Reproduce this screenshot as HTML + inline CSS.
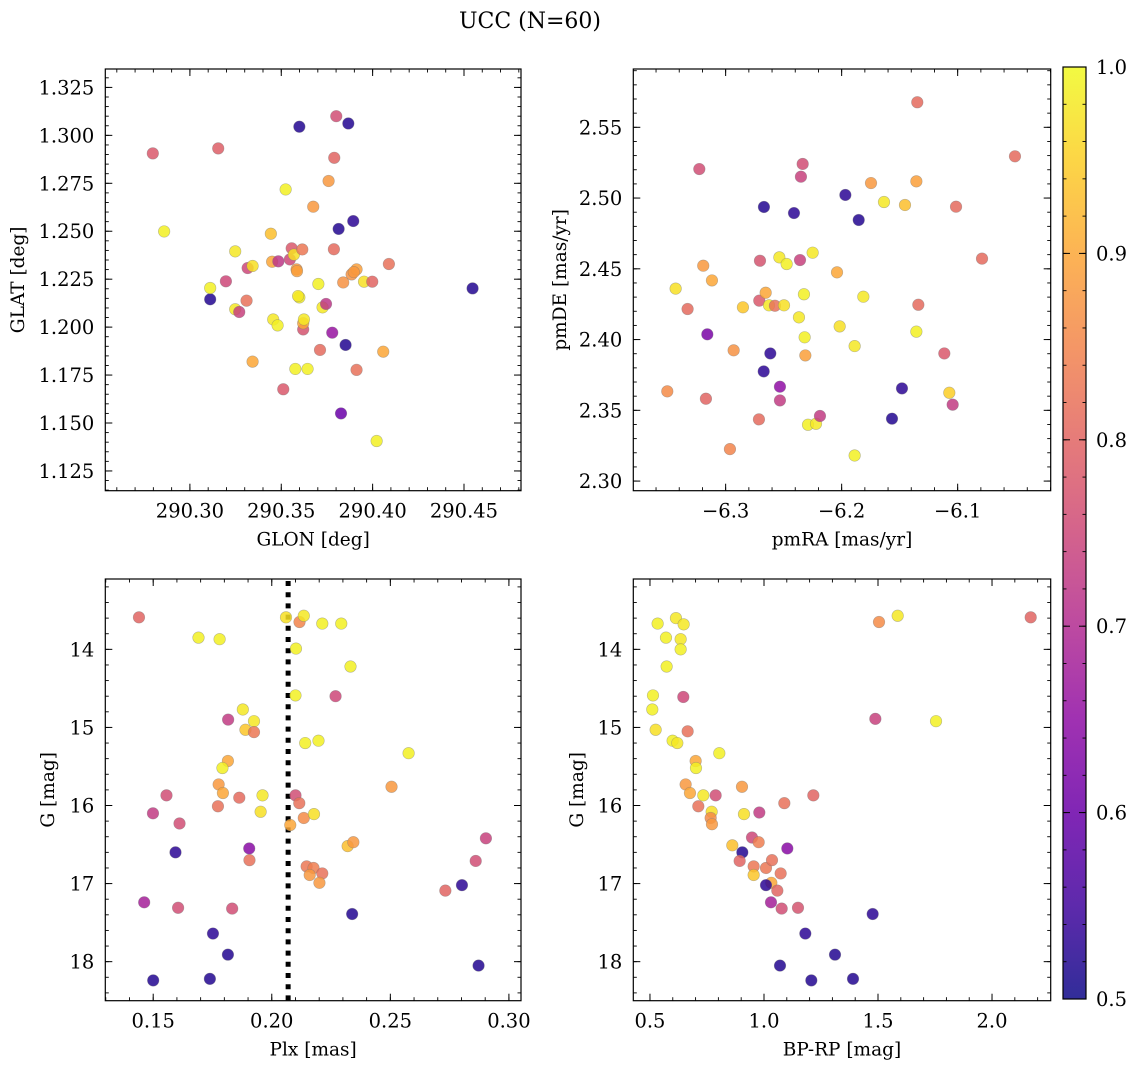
<!DOCTYPE html>
<html><head><meta charset="utf-8"><style>
html,body{margin:0;padding:0;background:#fff}
svg{display:block;font-family:"DejaVu Serif","Liberation Serif",serif}
</style></head><body>
<svg id="fig" width="1136" height="1067" viewBox="0 0 1136 1067">
<text x="530" y="28" font-size="22" text-anchor="middle">UCC (N=60)</text>
</svg>
<script>
const glonVals=[290.2797,290.2859,290.3155,290.3111,290.3111,290.3197,290.3248,290.3248,290.327,290.331,290.3316,290.3343,290.3343,290.3443,290.345,290.3484,290.3456,290.348,290.3511,290.3524,290.3557,290.3547,290.3569,290.3584,290.3586,290.3615,290.3599,290.3592,290.362,290.362,290.3624,290.3577,290.3644,290.3599,290.3675,290.3703,290.3712,290.3726,290.3745,290.3759,290.3779,290.379,290.3788,290.3801,290.3814,290.3827,290.3852,290.3867,290.3839,290.3885,290.3894,290.3912,290.3912,290.3953,290.3998,290.4022,290.4058,290.4089,290.4547,290.3897];
const glatVals=[1.2906,1.2499,1.2932,1.2145,1.2204,1.2239,1.2395,1.2093,1.2079,1.2138,1.2308,1.2319,1.182,1.2487,1.2341,1.2343,1.204,1.2009,1.1676,1.2718,1.2411,1.2353,1.2378,1.2301,1.2292,1.2405,1.2155,1.2162,1.1988,1.202,1.204,1.1782,1.1782,1.3045,1.2628,1.2225,1.1881,1.2103,1.2121,1.2762,1.1971,1.2883,1.2406,1.31,1.2512,1.155,1.1907,1.3062,1.2233,1.2275,1.2553,1.2301,1.1777,1.2237,1.2237,1.1406,1.1872,1.2329,1.2202,1.2287];
const probA=[0.78,0.99,0.79,0.52,0.99,0.75,0.98,0.98,0.74,0.82,0.75,0.97,0.9,0.93,0.9,0.72,0.98,0.99,0.78,0.99,0.78,0.75,0.97,0.88,0.89,0.83,0.99,0.98,0.77,0.9,0.98,0.99,0.99,0.52,0.88,0.99,0.81,0.98,0.72,0.88,0.66,0.8,0.81,0.76,0.52,0.6,0.52,0.52,0.87,0.87,0.53,0.89,0.82,0.97,0.8,0.99,0.9,0.82,0.52,0.88];

const pmraVals=[-6.3503,-6.3431,-6.3328,-6.3227,-6.3193,-6.3118,-6.3170,-6.3158,-6.2963,-6.2931,-6.2851,-6.2713,-6.2704,-6.2710,-6.2670,-6.2672,-6.2655,-6.2626,-6.2615,-6.2575,-6.2537,-6.2497,-6.2474,-6.2532,-6.2532,-6.2411,-6.2368,-6.2359,-6.2351,-6.2336,-6.2325,-6.2319,-6.2313,-6.2290,-6.2250,-6.2221,-6.2187,-6.2040,-6.2017,-6.1968,-6.1888,-6.1888,-6.1853,-6.1813,-6.1747,-6.1635,-6.1566,-6.1480,-6.1454,-6.1356,-6.1356,-6.1348,-6.1339,-6.1115,-6.1072,-6.1043,-6.1014,-6.0790,-6.0506];
const pmdeVals=[2.3634,2.4360,2.4216,2.5205,2.4522,2.4418,2.3582,2.4037,2.3226,2.3924,2.4228,2.3436,2.4557,2.4275,2.4937,2.3775,2.4331,2.4242,2.3902,2.4239,2.4581,2.4242,2.4534,2.3667,2.3570,2.4894,2.4157,2.4562,2.5151,2.5241,2.4320,2.4016,2.3888,2.3398,2.4614,2.3405,2.3460,2.4475,2.4093,2.5022,2.3954,2.3181,2.4845,2.4303,2.5106,2.4972,2.3441,2.3655,2.4951,2.5118,2.4056,2.5677,2.4246,2.3902,2.3624,2.3540,2.4939,2.4572,2.5295];
const probB=[0.86,0.97,0.81,0.76,0.88,0.9,0.8,0.62,0.85,0.87,0.94,0.81,0.77,0.78,0.52,0.53,0.9,0.98,0.53,0.82,0.98,0.97,0.99,0.65,0.73,0.53,0.98,0.74,0.74,0.76,0.99,0.99,0.89,0.99,0.98,0.98,0.73,0.9,0.97,0.53,0.98,0.99,0.52,0.98,0.88,0.98,0.52,0.53,0.93,0.89,0.99,0.81,0.81,0.78,0.95,0.73,0.81,0.81,0.81];

const plxVals=[0.1440,0.1691,0.1780,0.1499,0.1556,0.1611,0.1594,0.1462,0.1605,0.1500,0.1739,0.1752,0.1815,0.1816,0.1833,0.1878,0.1925,0.1889,0.1925,0.1815,0.1792,0.1776,0.1794,0.1773,0.1863,0.1961,0.1953,0.1905,0.1906,0.2060,0.2117,0.2135,0.2213,0.2293,0.2102,0.2332,0.2100,0.2269,0.2141,0.2197,0.2577,0.2505,0.2100,0.2116,0.2078,0.2135,0.2178,0.2320,0.2344,0.2147,0.2176,0.2213,0.2160,0.2201,0.2339,0.2732,0.2802,0.2860,0.2903,0.2872];
const gPlxVals=[13.59,13.85,13.87,16.10,15.87,16.23,16.60,17.24,17.31,18.24,18.22,17.64,17.91,14.90,17.32,14.77,14.92,15.03,15.06,15.43,15.52,15.73,15.84,16.01,15.90,15.87,16.08,16.55,16.70,13.59,13.65,13.57,13.67,13.67,13.99,14.22,14.59,14.60,15.20,15.17,15.33,15.76,15.87,15.97,16.25,16.16,16.11,16.52,16.47,16.78,16.80,16.87,16.89,16.99,17.39,17.09,17.02,16.71,16.42,18.05];
const probC=[0.8,0.99,0.99,0.73,0.76,0.76,0.53,0.68,0.76,0.52,0.52,0.53,0.52,0.73,0.76,0.98,0.98,0.94,0.83,0.9,0.99,0.88,0.9,0.82,0.81,0.98,0.97,0.64,0.82,0.97,0.85,0.98,0.99,0.99,0.99,0.99,0.99,0.75,0.99,0.99,0.99,0.88,0.76,0.82,0.9,0.86,0.97,0.93,0.88,0.83,0.84,0.82,0.88,0.88,0.52,0.8,0.53,0.76,0.74,0.52];
const plxLine=0.2069;

const bprpVals=[0.5336,0.6140,0.6477,0.5702,0.6345,0.6345,0.5731,0.5132,0.5102,0.5249,0.6462,0.5994,0.6199,0.6652,0.8041,0.7003,0.7018,0.6564,0.6754,0.7120,0.7339,0.7880,0.7705,0.7661,0.7719,0.9035,0.9123,0.9795,1.0892,1.2164,0.8611,0.9050,0.8933,0.9474,0.9766,0.9547,0.9547,1.0088,1.0351,1.1023,1.0731,1.0322,1.0088,1.0585,1.0307,1.0775,1.1491,1.1813,1.3114,1.0702,1.2076,1.3904,1.4766,1.5044,1.5863,1.4883,1.7544,2.1696];
const gColVals=[13.67,13.60,13.68,13.85,13.87,14.00,14.22,14.59,14.77,15.03,14.61,15.17,15.20,15.05,15.33,15.43,15.52,15.73,15.84,16.01,15.87,15.87,16.08,16.16,16.24,15.76,16.11,16.09,15.97,15.87,16.51,16.60,16.71,16.41,16.47,16.78,16.89,16.80,16.70,16.55,16.87,16.99,17.02,17.09,17.24,17.32,17.31,17.64,17.91,18.05,18.24,18.22,17.39,13.65,13.57,14.89,14.92,13.59];
const probD=[0.99,0.98,0.98,0.99,0.98,0.99,0.99,0.99,0.99,0.97,0.75,0.99,0.98,0.82,0.99,0.9,0.99,0.88,0.9,0.82,0.98,0.76,0.97,0.86,0.88,0.88,0.97,0.73,0.82,0.8,0.93,0.52,0.8,0.75,0.84,0.83,0.94,0.83,0.82,0.64,0.82,0.9,0.53,0.8,0.68,0.76,0.77,0.53,0.52,0.52,0.52,0.52,0.53,0.86,0.98,0.74,0.99,0.8];

const glonTicks=[290.30,290.35,290.40,290.45];
const glonTickLabels=["290.30","290.35","290.40","290.45"];
const glatTicks=[1.125,1.150,1.175,1.200,1.225,1.250,1.275,1.300,1.325];
const glatTickLabels=["1.125","1.150","1.175","1.200","1.225","1.250","1.275","1.300","1.325"];
const pmraTicks=[-6.3,-6.2,-6.1];
const pmraTickLabels=["\u22126.3","\u22126.2","\u22126.1"];
const pmdeTicks=[2.30,2.35,2.40,2.45,2.50,2.55];
const pmdeTickLabels=["2.30","2.35","2.40","2.45","2.50","2.55"];
const plxTicks=[0.15,0.20,0.25,0.30];
const plxTickLabels=["0.15","0.20","0.25","0.30"];
const gTicks=[14,15,16,17,18];
const gTickLabels=["14","15","16","17","18"];
const bprpTicks=[0.5,1.0,1.5,2.0];
const bprpTickLabels=["0.5","1.0","1.5","2.0"];
const cbarTicks=[0.5,0.6,0.7,0.8,0.9,1.0];
const cbarTickLabels=["0.5","0.6","0.7","0.8","0.9","1.0"];

const NS='http://www.w3.org/2000/svg';
const svg=document.getElementById('fig');
function mk(tag,attrs,parent){const e=document.createElementNS(NS,tag);for(const k in attrs)e.setAttribute(k,attrs[k]);(parent||svg).appendChild(e);return e;}
const stops=[[13,8,135],[65,4,157],[106,0,168],[143,13,164],[177,42,144],[204,71,120],[225,100,98],[242,132,75],[252,166,54],[252,206,37],[240,249,33]];
function plasma(t){t=Math.max(0,Math.min(1,t));const f=t*10,i=Math.min(9,Math.floor(f)),r=f-i;const a=stops[i],b=stops[i+1];return 'rgb('+a.map((v,k)=>Math.round(v+(b[k]-v)*r)).join(',')+')';}
function cmap(p){return plasma((p-0.5)/0.5);}
const TICKFS=19.5, TITLEFS=18.5;

function panel(cfg){
  const g=mk('g',{});
  
  
  const L=cfg.box[0],R=cfg.box[1],T=cfg.box[2],B=cfg.box[3];
  const sx=v=>L+(v-cfg.xd[0])/(cfg.xd[1]-cfg.xd[0])*(R-L);
  const sy=cfg.yinv?(v=>T+(v-cfg.yd[0])/(cfg.yd[1]-cfg.yd[0])*(B-T)):(v=>B-(v-cfg.yd[0])/(cfg.yd[1]-cfg.yd[0])*(B-T));
  const clip='c'+cfg.name;
  const cp=mk('clipPath',{id:clip},g);mk('rect',{x:L,y:T,width:R-L,height:B-T},cp);
  const pts=mk('g',{'clip-path':'url(#'+clip+')'},g);
  
  
  if(cfg.vline!==undefined){
    const l=mk('line',{x1:sx(cfg.vline),x2:sx(cfg.vline),y1:T+2,y2:B,stroke:'#000','stroke-width':5,'stroke-dasharray':'5,6.2'},pts);
    
    
  }
  cfg.xs.forEach((xv,i)=>{
    const c=mk('circle',{cx:sx(xv),cy:sy(cfg.ys[i]),r:5.8,fill:cmap(cfg.ps[i]),'fill-opacity':0.85,stroke:'#777','stroke-opacity':0.5,'stroke-width':0.6},pts);
    
    
  });
  mk('rect',{x:L,y:T,width:R-L,height:B-T,fill:'none',stroke:'#000','stroke-width':1.2},g);
  for(let v=Math.ceil(cfg.xd[0]/cfg.xm-1e-6)*cfg.xm;v<=cfg.xd[1];v+=cfg.xm){const x=sx(v);mk('line',{x1:x,x2:x,y1:B,y2:B-3.5,stroke:'#000','stroke-width':0.9},g);mk('line',{x1:x,x2:x,y1:T,y2:T+3.5,stroke:'#000','stroke-width':0.9},g);}
  const ylo=Math.min(cfg.yd[0],cfg.yd[1]),yhi=Math.max(cfg.yd[0],cfg.yd[1]);
  for(let v=Math.ceil(ylo/cfg.ym-1e-6)*cfg.ym;v<=yhi;v+=cfg.ym){const y=sy(v);mk('line',{x1:L,x2:L+3.5,y1:y,y2:y,stroke:'#000','stroke-width':0.9},g);mk('line',{x1:R,x2:R-3.5,y1:y,y2:y,stroke:'#000','stroke-width':0.9},g);}
  cfg.xt.forEach((v,i)=>{const x=sx(v);mk('line',{x1:x,x2:x,y1:B,y2:B-7,stroke:'#000','stroke-width':1},g);mk('line',{x1:x,x2:x,y1:T,y2:T+7,stroke:'#000','stroke-width':1},g);
    const t=mk('text',{x:x,y:B+27,'font-size':TICKFS,'text-anchor':'middle'},g);t.textContent=cfg.xl[i];
    
    });
  cfg.yt.forEach((v,i)=>{const y=sy(v);mk('line',{x1:L,x2:L+7,y1:y,y2:y,stroke:'#000','stroke-width':1},g);mk('line',{x1:R,x2:R-7,y1:y,y2:y,stroke:'#000','stroke-width':1},g);
    const t=mk('text',{x:L-11,y:y+7,'font-size':TICKFS,'text-anchor':'end'},g);t.textContent=cfg.yl[i];
    
    });
  const xt=mk('text',{x:(L+R)/2,y:B+55,'font-size':TITLEFS,'text-anchor':'middle'},g);xt.textContent=cfg.xtitle;
  
  
  const yt=mk('text',{x:0,y:0,'font-size':TITLEFS,'text-anchor':'middle',transform:'translate('+cfg.ytx+','+((T+B)/2)+') rotate(-90)'},g);yt.textContent=cfg.ytitle;
  
  
}
panel({name:'glon-glat-panel',box:[105.3,521,69,490.7],xd:[290.2537,290.4812],yd:[1.1147,1.3346],xs:glonVals,ys:glatVals,ps:probA,xt:glonTicks,xl:glonTickLabels,yt:glatTicks,yl:glatTickLabels,xm:0.01,ym:0.005,xtitle:'GLON [deg]',ytitle:'GLAT [deg]',ytx:24});
panel({name:'pm-panel',box:[633.3,1050.7,69,490.7],xd:[-6.3796,-6.0198],yd:[2.2932,2.5912],xs:pmraVals,ys:pmdeVals,ps:probB,xt:pmraTicks,xl:pmraTickLabels,yt:pmdeTicks,yl:pmdeTickLabels,xm:0.02,ym:0.01,xtitle:'pmRA [mas/yr]',ytitle:'pmDE [mas/yr]',ytx:566});
panel({name:'plx-g-panel',box:[105.3,521,579,1000.7],xd:[0.1298,0.3051],yd:[13.099,18.5],yinv:true,xs:plxVals,ys:gPlxVals,ps:probC,xt:plxTicks,xl:plxTickLabels,yt:gTicks,yl:gTickLabels,xm:0.01,ym:0.2,xtitle:'Plx [mas]',ytitle:'G [mag]',ytx:54,vline:plxLine});
panel({name:'cmd-panel',box:[633.3,1050.7,579,1000.7],xd:[0.4269,2.2573],yd:[13.099,18.5],yinv:true,xs:bprpVals,ys:gColVals,ps:probD,xt:bprpTicks,xl:bprpTickLabels,yt:gTicks,yl:gTickLabels,xm:0.1,ym:0.2,xtitle:'BP-RP [mag]',ytitle:'G [mag]',ytx:583});

const cb=mk('g',{});


const cbL=1063,cbR=1086,cbT=67,cbB=999;
const defs=mk('defs',{},cb);
const lg=mk('linearGradient',{id:'cbg',x1:0,y1:1,x2:0,y2:0},defs);
for(let i=0;i<=20;i++){mk('stop',{offset:i/20,'stop-color':plasma(i/20),'stop-opacity':0.85},lg);}
mk('rect',{x:cbL,y:cbT,width:cbR-cbL,height:cbB-cbT,fill:'url(#cbg)',stroke:'#000','stroke-width':1.2},cb);
const cy=v=>cbB-(v-0.5)/0.5*(cbB-cbT);
for(let v=0.5;v<=1.0001;v+=0.02){const y=cy(v);mk('line',{x1:cbR,x2:cbR-3.5,y1:y,y2:y,stroke:'#000','stroke-width':0.9},cb);mk('line',{x1:cbL,x2:cbL+3.5,y1:y,y2:y,stroke:'#000','stroke-width':0.9},cb);}
cbarTicks.forEach((v,i)=>{const y=cy(v);mk('line',{x1:cbR,x2:cbR-7,y1:y,y2:y,stroke:'#000','stroke-width':1},cb);mk('line',{x1:cbL,x2:cbL+7,y1:y,y2:y,stroke:'#000','stroke-width':1},cb);
  const t=mk('text',{x:cbR+10,y:y+7,'font-size':TICKFS},cb);t.textContent=cbarTickLabels[i];
  
  });
</script>
</body></html>
